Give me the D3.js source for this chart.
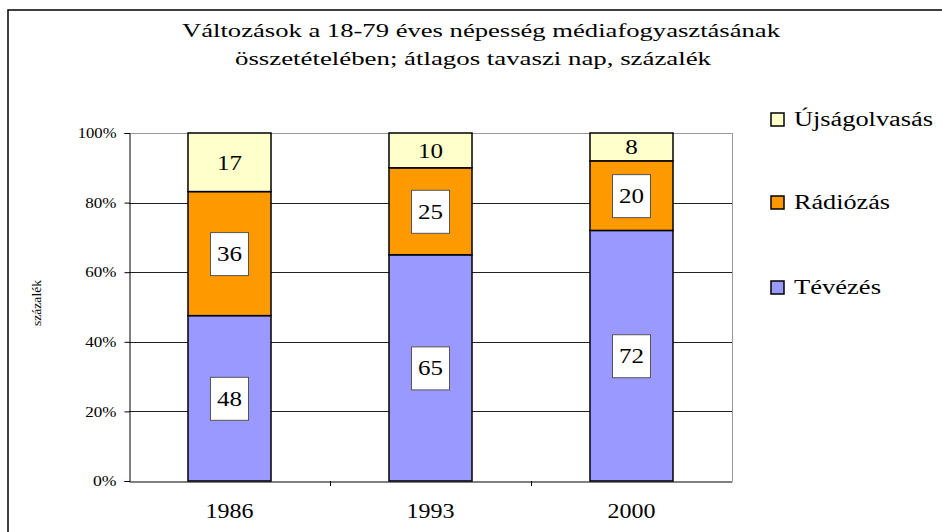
<!DOCTYPE html>
<html>
<head>
<meta charset="utf-8">
<script src="https://cdn.jsdelivr.net/npm/d3@7"></script>
<style>
  body { margin: 0; background: #fff; }
  svg { display: block; font-family: "Liberation Serif", "Times New Roman", serif; }
</style>
</head>
<body>
<svg id="chart" width="942" height="532"></svg>
<script>
const years = ['1986', '1993', '2000'];
const seriesNames = ['Tévézés', 'Rádiózás', 'Újságolvasás'];
const tevezes = [48, 65, 72];
const radiozas = [36, 25, 20];
const ujsag = [17, 10, 8];
const yTicks = [0, 0.2, 0.4, 0.6, 0.8, 1];
const colors = ['#9999ff', '#ff9900', '#ffffcc'];

const rows = years.map((y, i) => ({
  year: y,
  'Tévézés': tevezes[i],
  'Rádiózás': radiozas[i],
  'Újságolvasás': ujsag[i]
}));

const svg = d3.select('#chart');

const plot = { left: 129, right: 732, top: 133, bottom: 481 };

// outer chart frame
svg.append('rect')
  .attr('x', 8).attr('y', 10)
  .attr('width', 1000).attr('height', 1000)
  .attr('fill', 'none')
  .attr('stroke', '#000')
  .attr('stroke-width', 1.5);

// title (source picture is stretched horizontally)
const title = svg.append('text')
  .attr('text-anchor', 'middle')
  .style('font-size', '19px')
  .attr('fill', '#000');
title.append('tspan').attr('x', 481).attr('y', 37)
  .attr('textLength', 598).attr('lengthAdjust', 'spacingAndGlyphs')
  .text('Változások a 18-79 éves népesség médiafogyasztásának');
title.append('tspan').attr('x', 473).attr('y', 65)
  .attr('textLength', 476).attr('lengthAdjust', 'spacingAndGlyphs')
  .text('összetételében; átlagos tavaszi nap, százalék');

const x = d3.scaleBand()
  .domain(years)
  .range([plot.left, plot.right])
  .paddingInner(0.587)
  .paddingOuter(0.2935);

const y = d3.scaleLinear()
  .domain([0, 1])
  .range([plot.bottom, plot.top]);

const stack = d3.stack()
  .keys(seriesNames)
  .offset(d3.stackOffsetExpand);
const stacked = stack(rows);

// gridlines
svg.append('g')
  .selectAll('line')
  .data(yTicks.filter(d => d > 0))
  .join('line')
  .attr('x1', plot.left).attr('x2', plot.right)
  .attr('y1', d => Math.round(y(d)) + 0.5).attr('y2', d => Math.round(y(d)) + 0.5)
  .attr('stroke', d => d === 1 ? '#999' : '#222')
  .attr('stroke-width', 1);

// plot area right border
svg.append('line')
  .attr('x1', plot.right + 0.5).attr('x2', plot.right + 0.5)
  .attr('y1', plot.top).attr('y2', plot.bottom)
  .attr('stroke', '#999');

// y axis
const yAxis = svg.append('g')
  .attr('transform', `translate(${plot.left + 0.5},0)`)
  .call(d3.axisLeft(y).tickValues(yTicks).tickFormat(d3.format('.0%')).tickSize(5).tickPadding(8));
yAxis.select('.domain').attr('stroke', '#000');
yAxis.selectAll('.tick line').attr('stroke', '#000');
yAxis.selectAll('text')
  .style('font-family', '"Liberation Serif", serif')
  .style('font-size', '14.5px')
  .attr('textLength', function () { return (this.textContent.length - 1) * 7.6 + 16; })
  .attr('lengthAdjust', 'spacingAndGlyphs')
  .attr('fill', '#000');

// y axis title
svg.append('text')
  .attr('transform', `translate(41,303) rotate(-90)`)
  .attr('text-anchor', 'middle')
  .attr('textLength', 46)
  .attr('lengthAdjust', 'spacingAndGlyphs')
  .style('font-size', '12.5px')
  .text('százalék');

// bars
const layer = svg.append('g')
  .selectAll('g')
  .data(stacked)
  .join('g')
  .attr('fill', (d, i) => colors[i]);

layer.selectAll('rect')
  .data(d => d)
  .join('rect')
  .attr('x', d => x(d.data.year))
  .attr('y', d => y(d[1]))
  .attr('width', x.bandwidth())
  .attr('height', d => y(d[0]) - y(d[1]))
  .attr('stroke', '#000')
  .attr('stroke-width', 1.5);

// x axis
const xAxis = svg.append('g')
  .attr('transform', `translate(0,${plot.bottom + 0.5})`)
  .call(d3.axisBottom(x).tickSize(0).tickPadding(22));
xAxis.select('.domain').attr('stroke', '#000');
xAxis.selectAll('text')
  .style('font-family', '"Liberation Serif", serif')
  .style('font-size', '20px')
  .attr('textLength', 48)
  .attr('lengthAdjust', 'spacingAndGlyphs')
  .attr('fill', '#000');
// category boundary ticks
svg.append('g')
  .selectAll('line')
  .data(years.slice(1))
  .join('line')
  .attr('x1', d => Math.round(x(d) - x.step() * x.paddingInner() / 2) + 0.5)
  .attr('x2', d => Math.round(x(d) - x.step() * x.paddingInner() / 2) + 0.5)
  .attr('y1', plot.bottom).attr('y2', plot.bottom + 5)
  .attr('stroke', '#000');

// data labels
const labels = svg.append('g')
  .selectAll('g')
  .data(stacked.flatMap((s, si) => s.map(d => ({ si, key: s.key, d }))))
  .join('g')
  .attr('transform', o => `translate(${x(o.d.data.year) + x.bandwidth() / 2},${(y(o.d[0]) + y(o.d[1])) / 2})`);

labels.filter(o => o.si < 2)
  .append('rect')
  .attr('x', -19).attr('y', -21)
  .attr('width', 38).attr('height', 43)
  .attr('fill', '#fff')
  .attr('stroke', '#555')
  .attr('stroke-width', 1);

labels.append('text')
  .attr('text-anchor', 'middle')
  .attr('dy', '0.35em')
  .style('font-size', '21px')
  .attr('textLength', o => String(o.d.data[o.key]).length * 12.5)
  .attr('lengthAdjust', 'spacingAndGlyphs')
  .text(o => o.d.data[o.key]);

// legend
const legendY = [119, 202, 287];
const legendW = [87, 96, 139];
const legend = svg.append('g')
  .selectAll('g')
  .data(seriesNames)
  .join('g')
  .attr('transform', (d, i) => `translate(771,${legendY[2 - i]})`);
legend.append('rect')
  .attr('x', 0).attr('y', -6)
  .attr('width', 13).attr('height', 13)
  .attr('fill', (d, i) => colors[i])
  .attr('stroke', '#000')
  .attr('stroke-width', 1.5);
legend.append('text')
  .attr('x', 23).attr('y', 7)
  .attr('textLength', (d, i) => legendW[i])
  .attr('lengthAdjust', 'spacingAndGlyphs')
  .style('font-size', '20px')
  .text(d => d);
</script>
</body>
</html>
